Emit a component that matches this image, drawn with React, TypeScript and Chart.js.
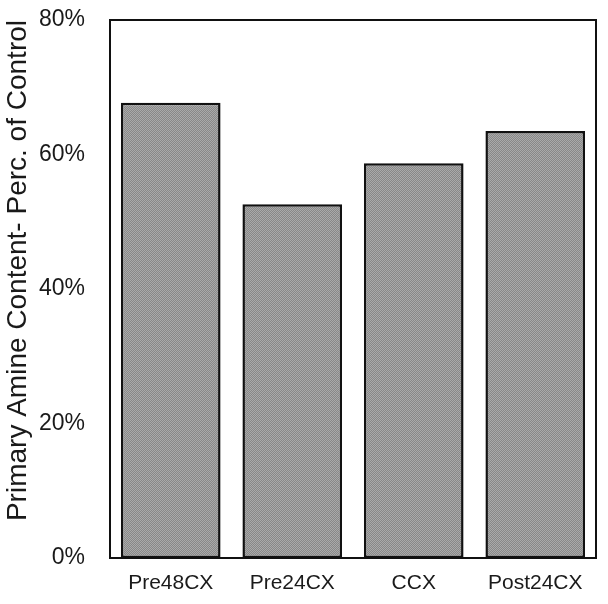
import React, { useEffect, useRef } from "react";
import { Chart, registerables } from "chart.js";

Chart.register(...registerables);

const categories = ["Pre48CX", "Pre24CX", "CCX", "Post24CX"];
const values = [67.7, 52.6, 58.7, 63.5];
const yTicks = [0, 20, 40, 60, 80];

const FONT = "Liberation Sans, Arial, sans-serif";

function makePattern(): CanvasPattern | string {
  const c = document.createElement("canvas");
  c.width = 4;
  c.height = 4;
  const ctx = c.getContext("2d");
  if (!ctx) return "#9c9c9c";
  ctx.fillStyle = "#aaaaaa";
  ctx.fillRect(0, 0, 4, 4);
  ctx.fillStyle = "#888888";
  for (let i = 0; i < 4; i++) {
    ctx.fillRect(i, (3 - i + 4) % 4, 1, 1);
    ctx.fillRect(i, (1 - i + 4) % 4, 1, 1);
  }
  const p = ctx.createPattern(c, "repeat");
  return p || "#9c9c9c";
}

const frame = {
  id: "frame",
  afterDatasetsDraw(chart: any) {
    const { ctx, chartArea } = chart;
    ctx.save();
    ctx.strokeStyle = "#111";
    ctx.lineWidth = 2;
    ctx.strokeRect(chartArea.left, chartArea.top, chartArea.right - chartArea.left, chartArea.bottom - chartArea.top);
    ctx.restore();
  },
};

export default function App() {
  const ref = useRef<HTMLCanvasElement>(null);
  useEffect(() => {
    document.body.style.margin = "0";
    const chart = new Chart(ref.current!, {
      type: "bar",
      data: {
        labels: categories,
        datasets: [
          {
            data: values,
            backgroundColor: makePattern() as any,
            borderColor: "#111",
            borderWidth: 2.5,
            borderSkipped: false,
            categoryPercentage: 0.82,
            barPercentage: 1,
          },
        ],
      },
      options: {
        animation: false,
        responsive: false,
        devicePixelRatio: 1,
        layout: { padding: { top: 20, right: 12, bottom: 0, left: 0 } },
        plugins: { legend: { display: false }, tooltip: { enabled: false } },
        scales: {
          x: {
            grid: { display: false, drawTicks: false },
            border: { display: false },
            ticks: {
              color: "#1a1a1a",
              font: { family: FONT, size: 21 },
              padding: 13,
              maxRotation: 0,
            },
            afterFit: (s: any) => {
              s.height = 46;
              s.paddingLeft = 0;
              s.paddingRight = 0;
            },
          },
          y: {
            min: 0,
            max: 80,
            afterBuildTicks: (s: any) => {
              s.ticks = yTicks.map((v) => ({ value: v }));
            },
            grid: { display: false, drawTicks: false },
            border: { display: false },
            ticks: {
              color: "#1a1a1a",
              font: { family: FONT, size: 23 },
              padding: 25,
              callback: (v: any) => v + "%",
            },
            title: {
              display: true,
              text: "Primary Amine Content- Perc. of Control",
              color: "#1a1a1a",
              align: "end",
              font: { family: FONT, size: 28 },
              padding: { top: 1, bottom: 0 },
            },
            afterFit: (s: any) => {
              s.width = 110;
              s.paddingTop = 0;
              s.paddingBottom = 0;
            },
          },
        },
      },
      plugins: [frame],
    });
    return () => chart.destroy();
  }, []);
  return (
    <div style={{ width: 608, height: 604 }}>
      <canvas ref={ref} width={608} height={604} style={{ display: "block" }} />
    </div>
  );
}
